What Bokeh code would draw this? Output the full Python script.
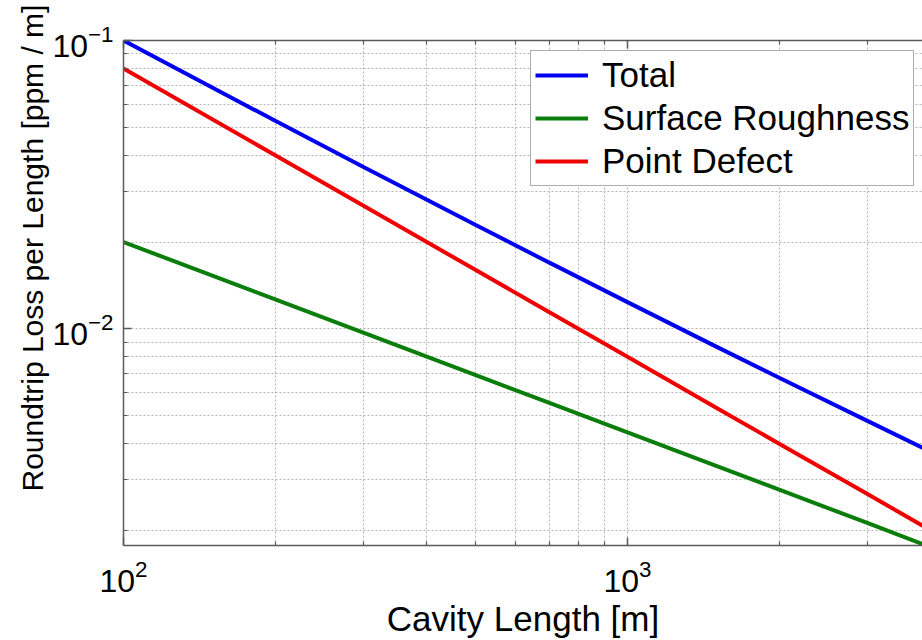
from bokeh.plotting import figure
from bokeh.models import LogAxis, FixedTicker, LogTickFormatter, Legend, LegendItem, Title, Range1d, CustomJSTickFormatter
from bokeh.embed import file_html
from bokeh.resources import INLINE

# Data (ppm / m versus cavity length in m)
cavity_length = [100, 200, 300, 500, 700, 1000, 1500, 2000, 3000, 4000]
total_loss = [0.1000, 0.05266, 0.03635, 0.02291, 0.01697, 0.01238, 0.00868, 0.00677, 0.00479, 0.00375]
surface_roughness = [0.0200, 0.01266, 0.00968, 0.00691, 0.00554, 0.00438, 0.00335, 0.00277, 0.00212, 0.00175]
point_defect = [0.0800, 0.0400, 0.02667, 0.0160, 0.01143, 0.00800, 0.00533, 0.00400, 0.00267, 0.00200]

series_names = ["Total", "Surface Roughness", "Point Defect"]
series_colors = ["#0000f0", "#0a7d0a", "#f00000"]

x_major_ticks = [100, 1000]
x_minor_ticks = [200, 300, 400, 500, 600, 700, 800, 900, 2000, 3000]
y_major_ticks = [0.01, 0.1]
y_minor_ticks = [0.002, 0.003, 0.004, 0.005, 0.006, 0.007, 0.008, 0.009,
                 0.02, 0.03, 0.04, 0.05, 0.06, 0.07, 0.08, 0.09]

FONT = "Liberation Sans"
AXIS_COLOR = "#5a5a5a"
GRID_COLOR = "#b4b4b4"

p = figure(width=922, height=640, x_axis_type="log", y_axis_type="log",
           x_range=Range1d(100, 3850), y_range=Range1d(0.001774, 0.1),
           output_backend="svg", toolbar_location=None,
           min_border_left=123, min_border_right=0, min_border_top=40, min_border_bottom=94)
p.outline_line_color = None
p.background_fill_color = "white"
p.border_fill_color = "white"

renderers = []
for ys, c in zip([total_loss, surface_roughness, point_defect], series_colors):
    r = p.line(cavity_length, ys, line_color=c, line_width=4)
    renderers.append(r)

def style_axis(ax, ticks, minor, show_labels=True):
    ax.ticker = FixedTicker(ticks=ticks, minor_ticks=minor)
    ax.axis_line_color = AXIS_COLOR
    ax.axis_line_width = 1.5
    ax.major_tick_line_color = AXIS_COLOR
    ax.minor_tick_line_color = AXIS_COLOR
    ax.major_tick_line_width = 1.5
    ax.minor_tick_line_width = 1.2
    ax.major_tick_in = 8
    ax.major_tick_out = 0
    ax.minor_tick_in = 4
    ax.minor_tick_out = 0
    ax.major_label_text_font = FONT
    ax.major_label_text_color = "black"
    ax.major_label_text_font_size = "32px"
    if show_labels:
        ax.formatter = LogTickFormatter()
        ax.major_label_standoff = 10
    else:
        ax.formatter = CustomJSTickFormatter(code="return '';")
        ax.major_label_standoff = 0

xax = p.xaxis[0]
yax = p.yaxis[0]
style_axis(xax, x_major_ticks, x_minor_ticks)
style_axis(yax, y_major_ticks, y_minor_ticks)
xax.major_label_standoff = 14
xax.axis_label = "Cavity Length [m]"
xax.axis_label_text_font = FONT
xax.axis_label_text_font_size = "35px"
xax.axis_label_text_font_style = "normal"
xax.axis_label_text_color = "black"
xax.axis_label_standoff = 4

top_ax = LogAxis()
style_axis(top_ax, x_major_ticks, x_minor_ticks, show_labels=False)
p.add_layout(top_ax, "above")

ytitle = Title(text="Roundtrip Loss per Length [ppm / m]", align="left", offset=54,
               text_font=FONT, text_font_size="30px", text_font_style="normal",
               text_color="black", standoff=2)
p.add_layout(ytitle, "left")

for g in (p.xgrid[0], p.ygrid[0]):
    g.grid_line_color = GRID_COLOR
    g.grid_line_dash = "2 2"
    g.grid_line_width = 1
    g.minor_grid_line_color = GRID_COLOR
    g.minor_grid_line_dash = "2 2"
    g.minor_grid_line_width = 1

legend = Legend(items=[LegendItem(label=n, renderers=[r]) for n, r in zip(series_names, renderers)],
                location=(407, 359), margin=0, padding=4, spacing=3,
                glyph_width=53, glyph_height=30, label_height=30, label_standoff=14,
                label_text_font=FONT, label_text_font_size="35px", label_text_color="black",
                border_line_color=AXIS_COLOR, border_line_width=1.5,
                background_fill_color="white", background_fill_alpha=1.0)
p.add_layout(legend)

open("out.html", "w").write(file_html(p, INLINE))
